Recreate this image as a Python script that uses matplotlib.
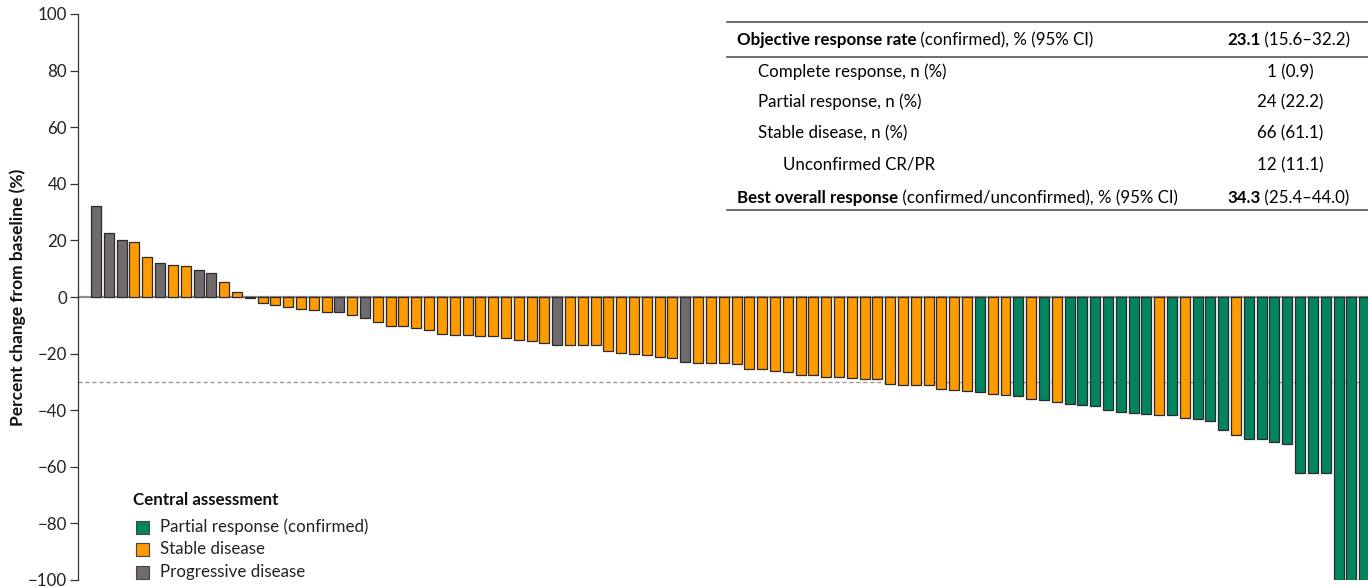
import matplotlib
matplotlib.use("Agg")
import matplotlib.pyplot as plt
from matplotlib.patches import Rectangle

plt.rcParams['font.family'] = ['Lato', 'DejaVu Sans']

# best % change from baseline, one bar per patient (sorted)
pct_change = [32.2, 22.7, 20.1, 19.4, 14.3, 11.9, 11.2, 10.8, 9.5, 8.4,
              5.4, 1.6, -0.5, -2.2, -2.9, -3.5, -4.4, -4.7, -5.2, -5.4,
              -6.5, -7.4, -9.0, -10.4, -10.4, -10.8, -11.5, -13.0, -13.4, -13.4,
              -13.8, -13.8, -14.6, -15.2, -15.5, -16.3, -16.8, -17.0, -17.0, -17.0,
              -19.0, -19.7, -20.0, -20.4, -21.2, -21.7, -23.0, -23.2, -23.2, -23.2,
              -23.6, -25.4, -25.4, -26.1, -26.5, -27.4, -27.7, -28.3, -28.3, -28.6,
              -28.9, -28.9, -30.6, -31.0, -31.2, -31.2, -32.5, -32.7, -33.1, -33.6,
              -34.2, -34.6, -35.1, -36.0, -36.3, -37.1, -37.7, -38.0, -38.6, -39.8,
              -40.6, -40.9, -41.3, -41.6, -41.8, -42.6, -43.1, -43.7, -47.0, -48.9,
              -50.1, -50.3, -51.1, -52.1, -62.2, -62.2, -62.2, -100, -100, -100]

response = (['PD', 'PD', 'PD', 'SD', 'SD', 'PD', 'SD', 'SD', 'PD', 'PD',
             'SD', 'SD', 'PD', 'SD', 'SD', 'SD', 'SD', 'SD', 'SD', 'PD',
             'SD', 'PD'] + ['SD'] * 14 + ['PD'] + ['SD'] * 9 + ['PD']
            + ['SD'] * 22
            + ['PR', 'SD', 'SD', 'PR', 'SD', 'PR', 'SD',
               'PR', 'PR', 'PR', 'PR', 'PR', 'PR', 'PR', 'SD', 'PR', 'SD',
               'PR', 'PR', 'PR', 'SD'] + ['PR'] * 10)

colors = {'PR': '#00855f', 'SD': '#ff9a00', 'PD': '#716b6d'}
legend_keys = ['PR', 'SD', 'PD']
legend_labels = ['Partial response (confirmed)', 'Stable disease',
                 'Progressive disease']

table_rows = ['Complete response, n (%)', 'Partial response, n (%)',
              'Stable disease, n (%)', 'Unconfirmed CR/PR']
table_vals = ['1 (0.9)', '24 (22.2)', '66 (61.1)', '12 (11.1)']

W, H = 1368, 587
fs = 12.2
fig = plt.figure(figsize=(W / 100, H / 100), dpi=100)
ax = fig.add_axes([78 / W, 7 / H, 1 - 78 / W, 566 / H])

x = list(range(len(pct_change)))
ax.bar(x, pct_change, width=0.78, color=[colors[r] for r in response],
       edgecolor='#2a2a2a', linewidth=0.9, zorder=3)

ax.axhline(0, color='#8c8c8c', lw=1.6, zorder=2)
ax.axhline(-30, color='#999999', lw=1.0, ls=(0, (3, 2)), zorder=1)

ax.set_xlim(-1.41, 99.3)
ax.set_ylim(-100, 100)
ax.set_yticks(range(-100, 101, 20))
ax.set_yticklabels([str(v).replace('-', '\u2212') for v in range(-100, 101, 20)])
ax.tick_params(axis='y', labelsize=fs, length=6, width=0.9, colors='#333333',
               labelcolor='#222222', pad=2)
ax.set_xticks([])
for s in ['top', 'right', 'bottom']:
    ax.spines[s].set_visible(False)
ax.spines['left'].set_color('#333333')
ax.spines['left'].set_linewidth(0.9)

fig.text(18 / W, 1 - 297 / H, 'Percent change from baseline (%)', rotation=90,
         ha='center', va='center', fontsize=12.5, fontweight='bold', color='#111111')


def fy(p):
    return 1 - p / H


# legend
fig.text(133 / W, fy(500), 'Central assessment', fontsize=fs, fontweight='bold',
         va='center', ha='left', color='#111111')
for k, lab, yy in zip(legend_keys, legend_labels, [527, 549, 572]):
    fig.add_artist(Rectangle((136 / W, fy(yy + 6.5)), 13 / W, 13 / H,
                             transform=fig.transFigure, facecolor=colors[k],
                             edgecolor='#444444', lw=0.8))
    fig.text(160 / W, fy(yy), lab, fontsize=fs, va='center', ha='left',
             color='#222222')


# response table
def hline(y):
    fig.add_artist(plt.Line2D([727 / W, 1], [fy(y), fy(y)], color='#555555', lw=1.2))


hline(22)
hline(57)
hline(210)

t = fig.text(737 / W, fy(40), 'Objective response rate', fontsize=fs,
             fontweight='bold', va='center')
ax.annotate(' (confirmed), % (95% CI)', xy=(1, 0.5), xycoords=t, fontsize=fs,
            va='center', ha='left', annotation_clip=False)
v = fig.text(1227 / W, fy(40), '23.1', fontsize=fs, fontweight='bold',
             va='center', ha='left')
ax.annotate(' (15.6\u201332.2)', xy=(1, 0.5), xycoords=v, fontsize=fs,
            va='center', ha='left', annotation_clip=False)

row_y = [72, 102, 133, 165]
row_x = [758, 758, 758, 783]
for name, val, yy, xx in zip(table_rows, table_vals, row_y, row_x):
    fig.text(xx / W, fy(yy), name, fontsize=fs, va='center')
    fig.text(1290 / W, fy(yy), val, fontsize=fs, va='center', ha='center')

t2 = fig.text(737 / W, fy(198), 'Best overall response', fontsize=fs,
              fontweight='bold', va='center')
ax.annotate(' (confirmed/unconfirmed), % (95% CI)', xy=(1, 0.5), xycoords=t2,
            fontsize=fs, va='center', ha='left', annotation_clip=False)
v2 = fig.text(1227 / W, fy(198), '34.3', fontsize=fs, fontweight='bold',
              va='center', ha='left')
ax.annotate(' (25.4\u201344.0)', xy=(1, 0.5), xycoords=v2, fontsize=fs,
            va='center', ha='left', annotation_clip=False)

fig.savefig('out.png', dpi=100)
